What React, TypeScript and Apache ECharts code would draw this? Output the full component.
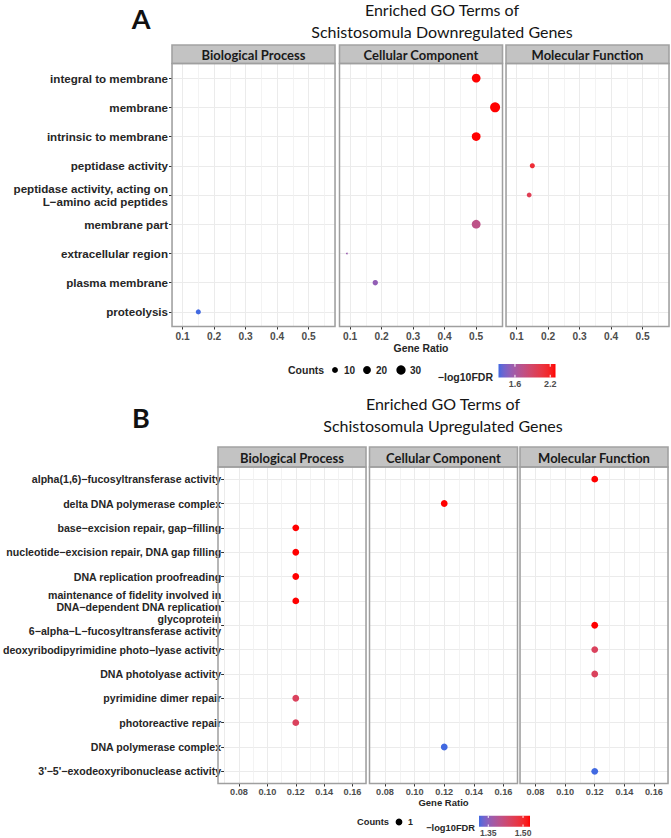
import React, { useEffect, useRef } from "react";
import * as echarts from "echarts";

// ---------------- data ----------------
const FACETS = ["Biological Process", "Cellular Component", "Molecular Function"];

// Panel A: downregulated
const termsA = [
  "integral to membrane",
  "membrane",
  "intrinsic to membrane",
  "peptidase activity",
  "peptidase activity, acting on\nL\u2212amino acid peptides",
  "membrane part",
  "extracellular region",
  "plasma membrane",
  "proteolysis",
];
const ontologyA = [
  "Cellular Component",
  "Cellular Component",
  "Cellular Component",
  "Molecular Function",
  "Molecular Function",
  "Cellular Component",
  "Cellular Component",
  "Cellular Component",
  "Biological Process",
];
const geneRatioA = [0.5, 0.56, 0.5, 0.15, 0.14, 0.5, 0.09, 0.18, 0.15];
const countsA = [26, 36, 26, 7, 6, 26, 1, 8, 7];
const log10FdrA = [2.29, 2.29, 2.29, 2.12, 1.98, 1.73, 1.55, 1.52, 1.32];
const xLimitsA = [0.0665, 0.5835];
const minorBreaksA = [0.15, 0.25, 0.35, 0.45, 0.55];
const countBreaksA = [10, 20, 30];
const fdrBreaksA = [1.6, 2.2];

// Panel B: upregulated
const termsB = [
  "alpha(1,6)\u2212fucosyltransferase activity",
  "delta DNA polymerase complex",
  "base\u2212excision repair, gap\u2212filling",
  "nucleotide\u2212excision repair, DNA gap filling",
  "DNA replication proofreading",
  "maintenance of fidelity involved in\nDNA\u2212dependent DNA replication",
  "glycoprotein\n6\u2212alpha\u2212L\u2212fucosyltransferase activity",
  "deoxyribodipyrimidine photo\u2212lyase activity",
  "DNA photolyase activity",
  "pyrimidine dimer repair",
  "photoreactive repair",
  "DNA polymerase complex",
  "3'\u22125'\u2212exodeoxyribonuclease activity",
];
const ontologyB = [
  "Molecular Function",
  "Cellular Component",
  "Biological Process",
  "Biological Process",
  "Biological Process",
  "Biological Process",
  "Molecular Function",
  "Molecular Function",
  "Molecular Function",
  "Biological Process",
  "Biological Process",
  "Cellular Component",
  "Molecular Function",
];
const geneRatioB = [0.12, 0.12, 0.12, 0.12, 0.12, 0.12, 0.12, 0.12, 0.12, 0.12, 0.12, 0.12, 0.12];
const countsB = [1, 1, 1, 1, 1, 1, 1, 1, 1, 1, 1, 1, 1];
const log10FdrB = [1.53, 1.53, 1.53, 1.53, 1.53, 1.53, 1.53, 1.45, 1.45, 1.45, 1.45, 1.31, 1.31];
const xLimitsB = [0.0695, 0.1695];
const minorBreaksB = [0.09, 0.11, 0.13, 0.15];
const countBreaksB = [1];
const fdrBreaksB = [1.35, 1.5];

const LOW_COLOR = "#4169E1";
const HIGH_COLOR = "#FF0000";

// ---------------- colour helpers (Lab interpolation like ggplot) ----------------
const Xn = 0.95047, Yn = 1.0, Zn = 1.08883;
function hexToRgb(h: string) {
  const n = parseInt(h.slice(1), 16);
  return [(n >> 16) & 255, (n >> 8) & 255, n & 255];
}
function toLin(c: number) {
  c /= 255;
  return c <= 0.04045 ? c / 12.92 : Math.pow((c + 0.055) / 1.055, 2.4);
}
function fromLin(c: number) {
  const v = c <= 0.0031308 ? 12.92 * c : 1.055 * Math.pow(Math.max(c, 0), 1 / 2.4) - 0.055;
  return Math.round(Math.max(0, Math.min(1, v)) * 255);
}
function fLab(t: number) {
  return t > 216 / 24389 ? Math.cbrt(t) : ((24389 / 27) * t + 16) / 116;
}
function fInv(t: number) {
  return t * t * t > 216 / 24389 ? t * t * t : (116 * t - 16) / (24389 / 27);
}
function hexToLab(h: string) {
  const [r, g, b] = hexToRgb(h).map(toLin);
  const X = 0.4124564 * r + 0.3575761 * g + 0.1804375 * b;
  const Y = 0.2126729 * r + 0.7151522 * g + 0.072175 * b;
  const Z = 0.0193339 * r + 0.119192 * g + 0.9503041 * b;
  const fx = fLab(X / Xn), fy = fLab(Y / Yn), fz = fLab(Z / Zn);
  return [116 * fy - 16, 500 * (fx - fy), 200 * (fy - fz)];
}
function labToHex(L: number, a: number, b: number) {
  const fy = (L + 16) / 116, fx = fy + a / 500, fz = fy - b / 200;
  const X = Xn * fInv(fx), Y = Yn * fInv(fy), Z = Zn * fInv(fz);
  const r = 3.2404542 * X - 1.5371385 * Y - 0.4985314 * Z;
  const g = -0.969266 * X + 1.8760108 * Y + 0.041556 * Z;
  const bb = 0.0556434 * X - 0.2040259 * Y + 1.0572252 * Z;
  return "#" + [r, g, bb].map(fromLin).map((v) => v.toString(16).padStart(2, "0")).join("");
}
function colorScale(min: number, max: number) {
  const lo = hexToLab(LOW_COLOR), hi = hexToLab(HIGH_COLOR);
  return (v: number) => {
    const t = Math.max(0, Math.min(1, (v - min) / (max - min)));
    return labToHex(lo[0] + (hi[0] - lo[0]) * t, lo[1] + (hi[1] - lo[1]) * t, lo[2] + (hi[2] - lo[2]) * t);
  };
}

// ---------------- layout ----------------
const ARIAL = "'Liberation Sans', Arial, Helvetica, sans-serif";
const CALIBRI = "Lato, 'Open Sans', 'Noto Sans', sans-serif";

type Panel = {
  letter: string;
  title: string[];
  terms: string[];
  ontology: string[];
  ratio: number[];
  counts: number[];
  fdr: number[];
  xLimits: number[];
  minor: number[];
  countBreaks: number[];
  fdrBreaks: number[];
  decimals: number;
  fdrDecimals: number;
  // layout
  lefts: number[];
  width: number;
  top: number;
  height: number;
  stripTop: number;
  letterXY: number[];
  titleY: number[];
  titleX: number;
  yFont: number;
  yLineHeight: number;
  yMargin: number;
  xFont: number;
  xMargin: number;
  sizeK: number;
  geneRatioY: number;
  geneRatioFont: number;
  legend: {
    countsX: number;
    y: number;
    dotX: number[];
    fdrTitleRight: number;
    fdrTitleY: number;
    barX: number;
    barY: number;
    barW: number;
    barH: number;
    font: number;
    labelFont: number;
  };
};

const panelA: Panel = {
  letter: "A",
  title: ["Enriched GO Terms of", "Schistosomula Downregulated Genes"],
  terms: termsA,
  ontology: ontologyA,
  ratio: geneRatioA,
  counts: countsA,
  fdr: log10FdrA,
  xLimits: xLimitsA,
  minor: minorBreaksA,
  countBreaks: countBreaksA,
  fdrBreaks: fdrBreaksA,
  decimals: 1,
  fdrDecimals: 1,
  lefts: [172, 339.5, 506],
  width: 163,
  top: 63.5,
  height: 263,
  stripTop: 45,
  letterXY: [141, 18],
  titleY: [9, 31],
  titleX: 442,
  yFont: 11.6,
  yLineHeight: 13.4,
  yMargin: 4,
  xFont: 10.2,
  xMargin: 5,
  sizeK: 1.67,
  geneRatioY: 348,
  geneRatioFont: 10.4,
  legend: {
    countsX: 288,
    y: 370,
    dotX: [335, 367, 401],
    fdrTitleRight: 493,
    fdrTitleY: 377,
    barX: 498.5,
    barY: 364,
    barW: 57,
    barH: 13.5,
    font: 10.5,
    labelFont: 9,
  },
};

const panelB: Panel = {
  letter: "B",
  title: ["Enriched GO Terms of", "Schistosomula Upregulated Genes"],
  terms: termsB,
  ontology: ontologyB,
  ratio: geneRatioB,
  counts: countsB,
  fdr: log10FdrB,
  xLimits: xLimitsB,
  minor: minorBreaksB,
  countBreaks: countBreaksB,
  fdrBreaks: fdrBreaksB,
  decimals: 2,
  fdrDecimals: 2,
  lefts: [218, 369.5, 520],
  width: 148,
  top: 467,
  height: 316.5,
  stripTop: 447,
  letterXY: [141, 417],
  titleY: [403, 425],
  titleX: 443,
  yFont: 10.6,
  yLineHeight: 11.6,
  yMargin: 3,
  xFont: 9.2,
  xMargin: 4,
  sizeK: 1.5,
  geneRatioY: 802,
  geneRatioFont: 9.5,
  legend: {
    countsX: 357,
    y: 822,
    dotX: [399],
    fdrTitleRight: 475,
    fdrTitleY: 828,
    barX: 479,
    barY: 815.7,
    barW: 51,
    barH: 11,
    font: 9.3,
    labelFont: 8.6,
  },
};

function buildOption() {
  const grid: any[] = [];
  const xAxis: any[] = [];
  const yAxis: any[] = [];
  const series: any[] = [];
  const elements: any[] = [];

  [panelA, panelB].forEach((p, pi) => {
    const cmin = Math.min(...p.counts);
    const cmax = Math.max(...p.counts);
    const fmin = Math.min(...p.fdr);
    const fmax = Math.max(...p.fdr);
    const size = (c: number) =>
      p.sizeK * (1 + 5 * Math.sqrt(cmax > cmin ? Math.max(0, Math.min(1, (c - cmin) / (cmax - cmin))) : 0.5));
    const col = colorScale(fmin, fmax);

    FACETS.forEach((facet, i) => {
      const gi = pi * 3 + i;
      grid.push({ left: p.lefts[i], top: p.top, width: p.width, height: p.height, containLabel: false });
      xAxis.push({
        type: "value",
        gridIndex: gi,
        min: p.xLimits[0],
        max: p.xLimits[1],
        splitNumber: 5,
        axisLine: { show: false },
        axisTick: { show: true, length: 3, lineStyle: { color: "#333333", width: 1 } },
        axisLabel: {
          formatter: (v: number) => v.toFixed(p.decimals),
          showMinLabel: false,
          showMaxLabel: false,
          fontFamily: ARIAL,
          fontWeight: "bold",
          fontSize: p.xFont,
          color: "#4d4d4d",
          margin: p.xMargin,
        },
        splitLine: { show: true, lineStyle: { color: "#ebebeb", width: 1 } },
      });
      yAxis.push({
        type: "category",
        gridIndex: gi,
        data: p.terms,
        inverse: true,
        boundaryGap: true,
        axisLine: { show: false },
        axisTick: { show: i === 0, alignWithLabel: true, length: 3, lineStyle: { color: "#333333", width: 1 } },
        axisLabel: {
          show: i === 0,
          interval: 0,
          fontFamily: ARIAL,
          fontWeight: "bold",
          fontSize: p.yFont,
          lineHeight: p.yLineHeight,
          color: "#262626",
          margin: p.yMargin,
          align: "right",
        },
        splitLine: { show: false },
      });
      const data: any[] = [];
      p.terms.forEach((t, k) => {
        if (p.ontology[k] === facet) data.push([p.ratio[k], k, p.counts[k], p.fdr[k]]);
      });
      const hLines = p.terms.map((_, k) => ({ yAxis: k, lineStyle: { color: "#ebebeb", width: 1 } }));
      const vMinor = p.minor.map((v) => ({ xAxis: v, lineStyle: { color: "#f0f0f0", width: 0.8 } }));
      series.push({
        type: "scatter",
        xAxisIndex: gi,
        yAxisIndex: gi,
        data,
        z: 4,
        symbol: "circle",
        symbolSize: (v: number[]) => size(v[2]),
        itemStyle: { color: (prm: any) => col(prm.value[3]), opacity: 1, borderWidth: 0 },
        emphasis: { disabled: true },
        markLine: {
          silent: true,
          z: 1,
          symbol: ["none", "none"],
          label: { show: false },
          emphasis: { disabled: true },
          lineStyle: { type: "solid" },
          data: [...hLines, ...vMinor],
        },
      });

      // strip
      elements.push({
        type: "rect",
        z: 20,
        shape: { x: p.lefts[i], y: p.stripTop, width: p.width, height: p.top - p.stripTop },
        style: { fill: "#c3c3c3", stroke: "#a2a2a2", lineWidth: 1.6 },
      });
      elements.push({
        type: "text",
        z: 21,
        x: p.lefts[i] + p.width / 2,
        y: (p.stripTop + p.top) / 2 + 0.5,
        style: {
          text: facet,
          align: "center",
          verticalAlign: "middle",
          fontFamily: CALIBRI,
          fontWeight: "bold",
          fontSize: pi === 0 ? 13 : 13,
          fill: "#1a1a1a",
        },
      });
      // panel border
      elements.push({
        type: "rect",
        z: 20,
        shape: { x: p.lefts[i], y: p.top, width: p.width, height: p.height },
        style: { fill: "none", stroke: "#9f9f9f", lineWidth: 1.5 },
      });
    });

    // letter + title
    elements.push({
      type: "text",
      z: 20,
      x: p.letterXY[0],
      y: p.letterXY[1],
      style: {
        text: p.letter,
        align: "center",
        verticalAlign: "middle",
        fontFamily: CALIBRI,
        fontWeight: "bold",
        fontSize: 27,
        fill: "#111111",
      },
    });
    p.title.forEach((line, li) => {
      elements.push({
        type: "text",
        z: 20,
        x: p.titleX,
        y: p.titleY[li],
        style: {
          text: line,
          align: "center",
          verticalAlign: "middle",
          fontFamily: CALIBRI,
          fontWeight: "normal",
          fontSize: 16,
          fill: "#151515",
        },
      });
    });
    // Gene Ratio axis title
    elements.push({
      type: "text",
      z: 20,
      x: p.lefts[1] + p.width / 2,
      y: p.geneRatioY,
      style: {
        text: "Gene Ratio",
        align: "center",
        verticalAlign: "middle",
        fontFamily: ARIAL,
        fontWeight: "bold",
        fontSize: p.geneRatioFont,
        fill: "#262626",
      },
    });

    // legend: Counts
    const L = p.legend;
    elements.push({
      type: "text",
      z: 20,
      x: L.countsX,
      y: L.y,
      style: {
        text: "Counts",
        align: "left",
        verticalAlign: "middle",
        fontFamily: ARIAL,
        fontWeight: "bold",
        fontSize: L.font,
        fill: "#262626",
      },
    });
    p.countBreaks.forEach((c, ci) => {
      elements.push({
        type: "circle",
        z: 20,
        shape: { cx: L.dotX[ci], cy: L.y, r: size(c) / 2 },
        style: { fill: "#000000" },
      });
      elements.push({
        type: "text",
        z: 20,
        x: L.dotX[ci] + 9,
        y: L.y,
        style: {
          text: String(c),
          align: "left",
          verticalAlign: "middle",
          fontFamily: ARIAL,
          fontWeight: "bold",
          fontSize: L.font - 0.5,
          fill: "#262626",
        },
      });
    });
    // legend: colorbar
    elements.push({
      type: "text",
      z: 20,
      x: L.fdrTitleRight,
      y: L.fdrTitleY,
      style: {
        text: "\u2212log10FDR",
        align: "right",
        verticalAlign: "middle",
        fontFamily: ARIAL,
        fontWeight: "bold",
        fontSize: L.font,
        fill: "#262626",
      },
    });
    const stops: any[] = [];
    for (let s = 0; s <= 20; s++) {
      stops.push({ offset: s / 20, color: col(fmin + ((fmax - fmin) * s) / 20) });
    }
    elements.push({
      type: "rect",
      z: 20,
      shape: { x: L.barX, y: L.barY, width: L.barW, height: L.barH },
      style: {
        fill: new echarts.graphic.LinearGradient(0, 0, 1, 0, stops),
      },
    });
    p.fdrBreaks.forEach((b) => {
      const bx = L.barX + ((b - fmin) / (fmax - fmin)) * L.barW;
      elements.push({
        type: "line",
        z: 21,
        shape: { x1: bx, y1: L.barY, x2: bx, y2: L.barY + L.barH * 0.2 },
        style: { stroke: "#ffffff", lineWidth: 1 },
      });
      elements.push({
        type: "line",
        z: 21,
        shape: { x1: bx, y1: L.barY + L.barH * 0.8, x2: bx, y2: L.barY + L.barH },
        style: { stroke: "#ffffff", lineWidth: 1 },
      });
      elements.push({
        type: "text",
        z: 20,
        x: bx,
        y: L.barY + L.barH + 6,
        style: {
          text: b.toFixed(p.fdrDecimals),
          align: "center",
          verticalAlign: "middle",
          fontFamily: ARIAL,
          fontWeight: "bold",
          fontSize: L.labelFont,
          fill: "#4d4d4d",
        },
      });
    });
  });

  return {
    animation: false,
    backgroundColor: "#ffffff",
    grid,
    xAxis,
    yAxis,
    series,
    graphic: { elements },
  };
}

export default function App() {
  const ref = useRef<HTMLDivElement>(null);
  useEffect(() => {
    if (!ref.current) return;
    const chart = echarts.init(ref.current, null, { renderer: "svg" });
    chart.setOption(buildOption() as any);
    return () => {
      chart.dispose();
    };
  }, []);
  return (
    <div
      ref={ref}
      style={{ position: "absolute", left: 0, top: 0, width: 671, height: 838, background: "#ffffff" }}
    />
  );
}
